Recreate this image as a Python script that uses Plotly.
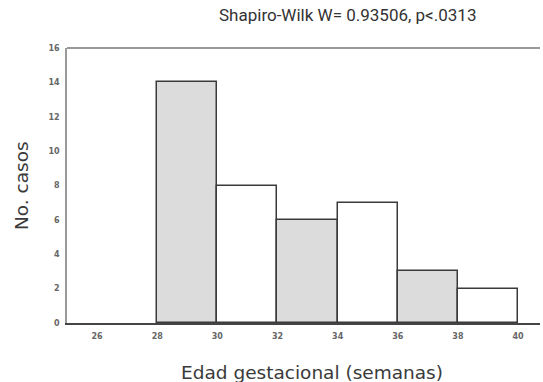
import plotly.graph_objects as go

bin_starts = [28, 30, 32, 34, 36, 38]
counts = [14, 8, 6, 7, 3, 2]
bin_width = 2
x_ticks = [26, 28, 30, 32, 34, 36, 38, 40]
y_ticks = [0, 2, 4, 6, 8, 10, 12, 14, 16]
title_text = "Shapiro-Wilk W= 0.93506, p<.0313"
x_title = "Edad gestacional (semanas)"
y_title = "No. casos"

fills = ["#dcdcdc" if i % 2 == 0 else "#ffffff" for i in range(len(counts))]

fig = go.Figure()
fig.add_trace(go.Bar(
    x=[s + bin_width / 2 for s in bin_starts],
    y=counts,
    width=[bin_width] * len(counts),
    marker=dict(color=fills, line=dict(color="#3a3a3a", width=1.5)),
    showlegend=False,
    hoverinfo="skip",
))

tickfont = dict(size=8, color="#666666", family="DejaVu Sans", weight="bold")
label_font = dict(size=18.5, color="#3a3a3a", family="DejaVu Sans")

fig.update_layout(
    width=543, height=382,
    margin=dict(l=67, r=3, t=48, b=59),
    paper_bgcolor="white", plot_bgcolor="white",
    font=dict(family="Roboto", color="#333333"),
    bargap=0,
    xaxis=dict(
        range=[25, 40.73], tickvals=x_ticks, ticktext=[str(v) for v in x_ticks],
        showgrid=False, zeroline=False,
        showline=True, linecolor="#444444", linewidth=2,
        ticks="", tickfont=tickfont,
        ticklabelstandoff=4,
    ),
    yaxis=dict(
        range=[0, 16], tickvals=y_ticks, ticktext=[str(v) for v in y_ticks],
        showgrid=False, zeroline=False,
        showline=True, linecolor="#999999", linewidth=1.5,
        ticks="", tickfont=tickfont,
        ticklabelstandoff=4,
    ),
    shapes=[dict(type="line", xref="paper", yref="paper", x0=0, x1=1, y0=1, y1=1,
                 line=dict(color="#999999", width=2))],
    annotations=[
        dict(text=title_text, xref="paper", yref="paper", x=0.592, y=1, yshift=33,
             showarrow=False, xanchor="center", yanchor="middle",
             font=dict(size=17, color="#333333", family="Roboto")),
        dict(text=x_title, xref="paper", yref="paper", x=0.518, y=0, yshift=-49,
             showarrow=False, xanchor="center", yanchor="middle",
             font=label_font),
        dict(text=y_title, xref="paper", yref="paper", x=0, y=0.498, xshift=-46,
             textangle=-90, showarrow=False, xanchor="center", yanchor="middle",
             font=label_font),
    ],
)

fig.write_html("out.html", config={"displayModeBar": False},
               post_script="document.body.style.margin='0';")
